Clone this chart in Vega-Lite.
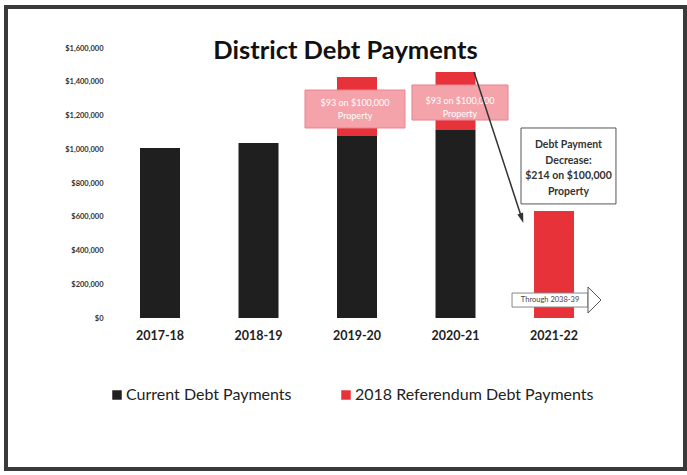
{
  "$schema": "https://vega.github.io/schema/vega-lite/v6.json",
  "width": 679,
  "height": 462,
  "autosize": {"type": "none"},
  "padding": {"left": 6, "top": 7, "right": 2, "bottom": 6},
  "background": "white",
  "config": {"view": {"stroke": "#3a3a3a", "strokeWidth": 4}, "font": "Lato"},
  "title": {"text": "District Debt Payments", "fontSize": 25.5, "font": "Lato", "fontWeight": "bold", "color": "#111111", "offset": -57, "anchor": "middle"},
  "datasets": {
    "bars": [
      {"year": "2017-18", "series": "Current Debt Payments", "value": 1007000},
      {"year": "2018-19", "series": "Current Debt Payments", "value": 1037000},
      {"year": "2019-20", "series": "Current Debt Payments", "value": 1079000},
      {"year": "2019-20", "series": "2018 Referendum Debt Payments", "value": 349000},
      {"year": "2020-21", "series": "Current Debt Payments", "value": 1114000},
      {"year": "2020-21", "series": "2018 Referendum Debt Payments", "value": 344000},
      {"year": "2021-22", "series": "2018 Referendum Debt Payments", "value": 634000}
    ],
    "pinkBoxes": [
      {"x1": 1.472, "x2": 2.487, "y1": 1126000, "y2": 1351000, "xc": 1.98, "yc": 1274000, "label": ["$93 on $100,000", "Property"]},
      {"x1": 2.558, "x2": 3.533, "y1": 1173000, "y2": 1381000, "xc": 3.045, "yc": 1286000, "label": ["$93 on $100,000", "Property"]}
    ],
    "callout": [
      {"x1": 3.665, "x2": 4.629, "y1": 676000, "y2": 1126000, "xc": 4.147, "yc": 1025000, "label": ["Debt Payment", "Decrease:", "$214 on $100,000", "Property"]}
    ],
    "arrow": [
      {"x": 3.188, "y": 1458000},
      {"x": 3.673, "y": 591000}
    ],
    "arrowHead": [
      {"x": 3.673, "y": 591000}
    ],
    "through": [
      {"x1": 3.574, "x2": 4.345, "y1": 65000, "y2": 148000, "xh": 4.345, "yh": 106700, "xt": 3.96, "label": "Through 2038-39"}
    ]
  },
  "layer": [
    {
      "data": {"name": "bars"},
      "mark": {"type": "bar", "width": 40},
      "encoding": {
        "x": {
          "field": "year", "type": "nominal",
          "scale": {"paddingInner": 0, "paddingOuter": 0.9466, "align": 0.5617},
          "axis": {"orient": "bottom", "offset": -142, "labelFontSize": 12.5, "labelFontWeight": "bold", "labelColor": "#222222", "domain": false, "ticks": false, "tickSize": 0, "title": null, "labelAngle": 0, "labelPadding": 2}
        },
        "y": {
          "field": "value", "type": "quantitative", "stack": "zero",
          "scale": {"domain": [-894800, 1843000], "nice": false, "zero": false},
          "axis": {"values": [0, 200000, 400000, 600000, 800000, 1000000, 1200000, 1400000, 1600000], "format": "$,.0f", "grid": false, "domain": false, "ticks": false, "tickSize": 0, "labelFontSize": 7.5, "labelFontWeight": "bold", "labelColor": "#333333", "offset": -99, "labelPadding": 2, "title": null}
        },
        "color": {
          "field": "series", "type": "nominal",
          "scale": {"domain": ["Current Debt Payments", "2018 Referendum Debt Payments"], "range": ["#1f1f1f", "#e8323a"]},
          "legend": {"orient": "none", "legendX": 103, "legendY": 380, "direction": "horizontal", "title": null, "symbolType": "square", "symbolSize": 90, "symbolStrokeWidth": 0, "labelFontSize": 16, "labelColor": "#222222", "columnPadding": 46, "labelOffset": 1, "padding": 0, "labelLimit": 400}
        },
        "order": {"field": "series", "sort": "descending"}
      }
    },
    {
      "layer": [
        {
          "data": {"name": "pinkBoxes"},
          "mark": {"type": "rect", "fill": "#f4a3aa", "stroke": "#e5858f", "strokeWidth": 1},
          "encoding": {
            "x": {"field": "x1", "type": "quantitative", "scale": {"domain": [-1.5635, 5.3299], "nice": false, "zero": false}, "axis": null},
            "x2": {"field": "x2"},
            "y": {"field": "y1", "type": "quantitative", "scale": {"domain": [-894800, 1843000], "nice": false, "zero": false}, "axis": null},
            "y2": {"field": "y2"}
          }
        },
        {
          "data": {"name": "pinkBoxes"},
          "mark": {"type": "text", "color": "#ffffff", "fontSize": 9, "lineHeight": 13, "baseline": "middle", "align": "center"},
          "encoding": {
            "x": {"field": "xc", "type": "quantitative"},
            "y": {"field": "yc", "type": "quantitative"},
            "text": {"field": "label"}
          }
        },
        {
          "data": {"name": "callout"},
          "mark": {"type": "rect", "fill": "#ffffff", "stroke": "#555555", "strokeWidth": 1},
          "encoding": {
            "x": {"field": "x1", "type": "quantitative"},
            "x2": {"field": "x2"},
            "y": {"field": "y1", "type": "quantitative"},
            "y2": {"field": "y2"}
          }
        },
        {
          "data": {"name": "callout"},
          "mark": {"type": "text", "color": "#333333", "fontSize": 10.5, "fontWeight": "bold", "lineHeight": 15.5, "baseline": "middle", "align": "center"},
          "encoding": {
            "x": {"field": "xc", "type": "quantitative"},
            "y": {"field": "yc", "type": "quantitative"},
            "text": {"field": "label"}
          }
        },
        {
          "data": {"name": "arrow"},
          "mark": {"type": "line", "color": "#333333", "strokeWidth": 1.5},
          "encoding": {
            "x": {"field": "x", "type": "quantitative"},
            "y": {"field": "y", "type": "quantitative"}
          }
        },
        {
          "data": {"name": "arrowHead"},
          "mark": {"type": "point", "shape": "M0,-1L0.6,1L-0.6,1Z", "size": 100, "angle": 162, "filled": true, "color": "#333333", "opacity": 1},
          "encoding": {
            "x": {"field": "x", "type": "quantitative"},
            "y": {"field": "y", "type": "quantitative"}
          }
        },
        {
          "data": {"name": "through"},
          "mark": {"type": "rect", "fill": "#ffffff", "stroke": "#888888", "strokeWidth": 1},
          "encoding": {
            "x": {"field": "x1", "type": "quantitative"},
            "x2": {"field": "x2"},
            "y": {"field": "y1", "type": "quantitative"},
            "y2": {"field": "y2"}
          }
        },
        {
          "data": {"name": "through"},
          "mark": {"type": "point", "shape": "M0,-1L1,0L0,1Z", "size": 676, "fill": "#ffffff", "stroke": "#555555", "strokeWidth": 1, "opacity": 1, "filled": false},
          "encoding": {
            "x": {"field": "xh", "type": "quantitative"},
            "y": {"field": "yh", "type": "quantitative"}
          }
        },
        {
          "data": {"name": "through"},
          "mark": {"type": "text", "color": "#444444", "fontSize": 7.5, "baseline": "middle", "align": "center"},
          "encoding": {
            "x": {"field": "xt", "type": "quantitative"},
            "y": {"field": "yh", "type": "quantitative"},
            "text": {"field": "label"}
          }
        }
      ]
    }
  ],
  "resolve": {"scale": {"x": "independent", "y": "independent"}}
}
